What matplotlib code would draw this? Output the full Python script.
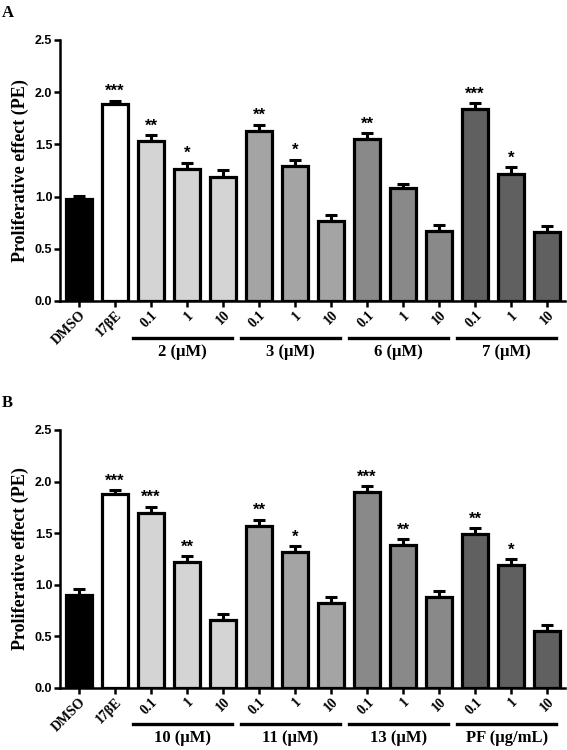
import numpy as np
import matplotlib
matplotlib.use("Agg")
import matplotlib.pyplot as plt
import matplotlib.transforms as mtransforms

# ---- data ----
tick_labels = ["DMSO", "17βE", "0.1", "1", "10", "0.1", "1", "10",
               "0.1", "1", "10", "0.1", "1", "10"]

a_values = [0.975, 1.885, 1.53, 1.265, 1.19, 1.63, 1.297, 0.767,
            1.553, 1.086, 0.671, 1.84, 1.22, 0.658]
a_errors = [0.03, 0.035, 0.06, 0.06, 0.06, 0.06, 0.055, 0.058,
            0.057, 0.03, 0.054, 0.055, 0.06, 0.057]
a_stars = ["", "***", "**", "*", "", "**", "*", "", "**", "", "", "***", "*", ""]
a_groups = ["2 (μM)", "3 (μM)", "6 (μM)", "7 (μM)"]

b_values = [0.90, 1.88, 1.695, 1.216, 0.657, 1.571, 1.313, 0.825,
            1.90, 1.384, 0.88, 1.488, 1.19, 0.547]
b_errors = [0.055, 0.035, 0.06, 0.061, 0.055, 0.06, 0.061, 0.058,
            0.058, 0.056, 0.058, 0.062, 0.055, 0.061]
b_stars = ["", "***", "***", "**", "", "**", "*", "", "***", "**", "", "**", "*", ""]
b_groups = ["10 (μM)", "11 (μM)", "13 (μM)", "PF (μg/mL)"]

bar_colors = ["#000000", "#ffffff"] + ["#d4d4d4"] * 3 + ["#a4a4a4"] * 3 \
             + ["#898989"] * 3 + ["#606060"] * 3

SERIF = "Liberation Serif"
SANS = "Liberation Sans"


def draw_panel(ax, values, errors, stars, groups, letter):
    x = np.arange(len(values))
    ax.bar(x, values, width=0.72, color=bar_colors, edgecolor="black",
           linewidth=2.3, zorder=2)
    # upper error bars only
    ax.errorbar(x, values, yerr=[np.zeros(len(errors)), errors], fmt="none",
                ecolor="black", elinewidth=2.2, capsize=4, capthick=2.2, zorder=1)
    for xi, v, e, s in zip(x, values, errors, stars):
        if s:
            ax.text(xi, v + e + 0.015, s, ha="center", va="bottom",
                    fontsize=12, fontweight="bold", family=SANS)

    ax.set_xlim(-0.53, 13.5)
    ax.set_ylim(0, 2.5)
    ax.set_yticks([0.0, 0.5, 1.0, 1.5, 2.0, 2.5])
    ax.set_yticklabels(["0.0", "0.5", "1.0", "1.5", "2.0", "2.5"],
                       fontsize=9, fontweight="bold", family=SANS)
    ax.set_xticks(x)
    ax.set_xticklabels(tick_labels, rotation=45, ha="right",
                       rotation_mode="anchor", fontsize=10,
                       fontweight="bold", family=SERIF)
    ax.set_ylabel("Proliferative effect (PE)", fontsize=13,
                  fontweight="bold", family=SERIF, labelpad=4)
    for side in ["top", "right"]:
        ax.spines[side].set_visible(False)
    for side in ["left", "bottom"]:
        ax.spines[side].set_linewidth(1.8)
    ax.tick_params(axis="both", direction="out", length=4, width=1.8, pad=1.5)

    # group underlines and labels
    trans = mtransforms.blended_transform_factory(ax.transData, ax.transAxes)
    for k, g in enumerate(groups):
        first = 2 + 3 * k
        last = first + 2
        x0, x1 = first - 0.5, last + 0.25
        ax.plot([x0, x1], [-0.141, -0.141], color="black", linewidth=2.4,
                transform=trans, clip_on=False)
        ax.text((x0 + x1) / 2, -0.165, g, transform=trans, ha="center",
                va="top", fontsize=12, fontweight="bold", family=SERIF)

    ax.text(-0.115, 1.135, letter, transform=ax.transAxes, fontsize=12,
            fontweight="bold", family=SERIF, va="top", ha="left")


fig = plt.figure(figsize=(5.67, 7.5), dpi=100)
ax_a = fig.add_axes([0.1058, 0.5987, 0.891, 0.348])
ax_b = fig.add_axes([0.1058, 0.0831, 0.891, 0.3436])

draw_panel(ax_a, a_values, a_errors, a_stars, a_groups, "A")
draw_panel(ax_b, b_values, b_errors, b_stars, b_groups, "B")

fig.savefig("out.png", dpi=100)
